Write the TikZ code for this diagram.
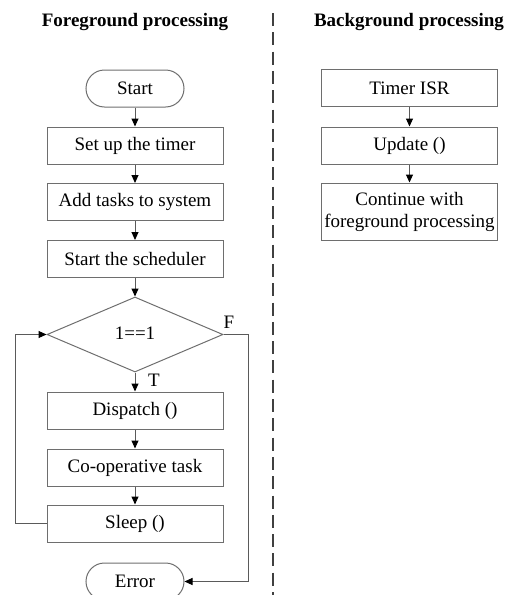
\documentclass[tikz,border=0pt]{standalone}
\usepackage{fontspec}
\setmainfont{Liberation Serif}
\usetikzlibrary{shapes.geometric,shapes.misc,arrows.meta}
\definecolor{boxgray}{RGB}{110,110,110}
\definecolor{linegray}{RGB}{90,90,90}
\begin{document}
\begin{tikzpicture}[x=1pt,y=-1pt,
  every node/.style={font=\fontsize{19}{22}\selectfont, inner sep=0pt},
  procbox/.style={draw=boxgray, line width=1pt, rectangle, minimum width=176pt, minimum height=37pt, align=center},
  termbox/.style={draw=boxgray, line width=1pt, rounded rectangle, minimum width=98pt, minimum height=37pt},
  decbox/.style={draw=boxgray, line width=1pt, diamond, aspect=2.35, minimum width=176pt, minimum height=75pt},
  titletext/.style={font=\bfseries\fontsize{19}{22}\selectfont},
  arr/.style={draw=linegray, line width=1pt, -{Triangle[length=8pt,width=7pt,fill=black,color=black]}},
  lbl/.style={font=\fontsize{19}{22}\selectfont}
]
\useasboundingbox (0,0) rectangle (513,595);
\clip (0,0) rectangle (513,595);

% titles
\node[titletext] (t1) at (135,22) {Foreground processing};
\node[titletext] (t2) at (409,22) {Background processing};

% divider
\coordinate (dtop) at (273,13);
\coordinate (dbot) at (273,600);
\draw[line width=1.6pt, draw=black!75, dash pattern=on 13pt off 6.3pt] (dtop) -- (dbot);

% foreground
\node[termbox] (start) at (135,88.5) {Start};
\node[procbox] (set) at (135,145.5) {Set up the timer};
\node[procbox] (add) at (135,202) {Add tasks to system};
\node[procbox] (sched) at (135,259) {Start the scheduler};
\node[decbox] (dec) at (135,334.5) {};
\node (dectext) at (135,333) {1==1};
\node[procbox] (disp) at (135,410.5) {Dispatch ()};
\node[procbox] (coop) at (135,467.5) {Co-operative task};
\node[procbox] (sleep) at (135,523.5) {Sleep ()};
\node[termbox] (error) at (135,581.5) {Error};

\draw[arr] (start) -- (set);
\draw[arr] (set) -- (add);
\draw[arr] (add) -- (sched);
\draw[arr] (sched) -- (dec.north);
\draw[arr] (dec.south) -- (disp);
\draw[arr] (disp) -- (coop);
\draw[arr] (coop) -- (sleep);
\coordinate (loopx) at (15,523.5);
\draw[arr] (sleep.west) -- (loopx) |- (dec.west);
\coordinate (fx) at (248,334.5);
\draw[arr] (dec.east) -- (fx) |- (error.east);

\node[lbl] (tl) at (154,380) {T};
\node[lbl] (fl) at (229,322) {F};

% background
\node[procbox] (timer) at (409.5,88) {Timer ISR};
\node[procbox] (update) at (409.5,145.5) {Update ()};
\node[procbox, minimum height=57pt] (cont) at (409.5,211.5) {Continue with\\foreground processing};

\draw[arr] (timer) -- (update);
\draw[arr] (update) -- (cont);
\end{tikzpicture}
\end{document}
